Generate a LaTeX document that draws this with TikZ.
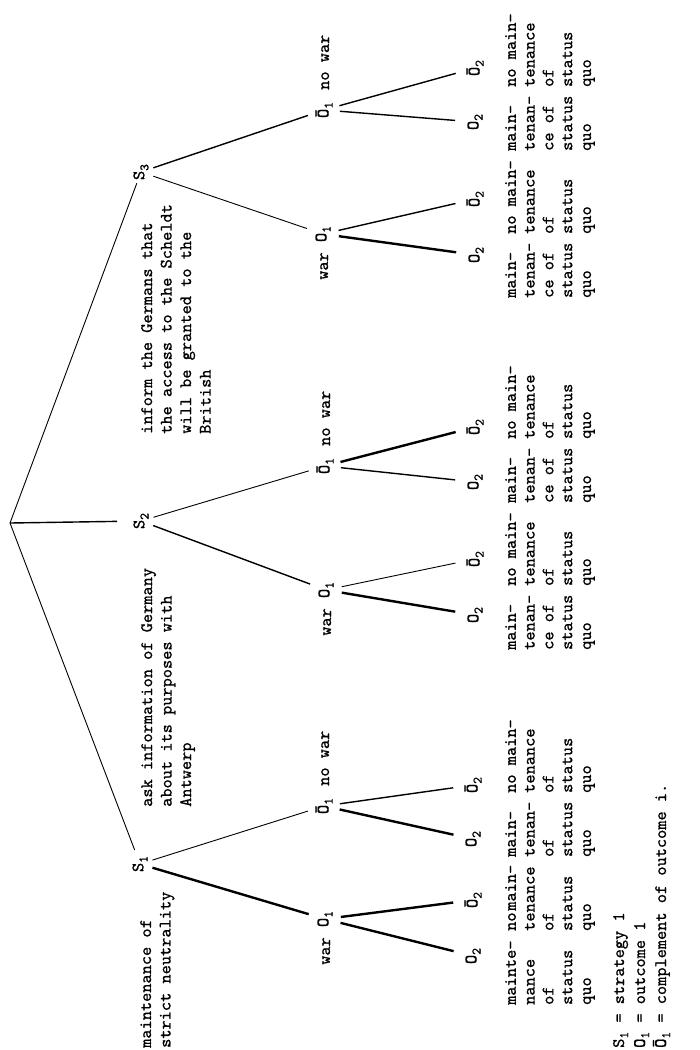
\documentclass[tikz,border=0pt]{standalone}
\usepackage{fontspec}
\newfontfamily\tw{lmmono10-regular.otf}[FakeBold=0.8]
\newcommand{\lsub}[1]{\raisebox{-0.55ex}{\fontsize{13}{13}\selectfont #1}}
\begin{document}
\begin{tikzpicture}[x=1pt,y=-1pt,
  every node/.style={font=\tw\fontsize{17.5}{19.5}\selectfont, rotate=90, inner sep=0pt},
  stxt/.style={align=left, anchor=north west},
  ltxt/.style={align=left, anchor=north west, font=\tw\fontsize{17.5}{18.8}\selectfont},
  thinl/.style={line width=0.9pt},
  midl/.style={line width=1.4pt},
  thickl/.style={line width=2.4pt},
  froms/.style={shorten <=13pt, shorten >=17pt},
  fromo/.style={shorten <=16pt, shorten >=20pt},
]
\useasboundingbox (0,0) rectangle (700,1050);

% root and strategies
\coordinate (R) at (10,523);
\node (S1) at (140,864) {S\lsub{1}};
\node (S2) at (141,521) {S\lsub{2}};
\node (S3) at (141,172) {S\lsub{3}};

% outcome O1 level
\node (A1) at (325,919) {O\lsub{1}};
\node (B1) at (324,806) {\=O\lsub{1}};
\node (A2) at (326,590) {O\lsub{1}};
\node (B2) at (325,466) {\=O\lsub{1}};
\node (A3) at (323,234) {O\lsub{1}};
\node (B3) at (324,110) {\=O\lsub{1}};

\foreach \n in {1,2,3}{
  \node[anchor=base east] (w\n) at ([xshift=5pt,yshift=-18pt]A\n.center) {war};
  \node[anchor=base west] (nw\n) at ([xshift=5pt,yshift=20pt]B\n.center) {no war};
}

% leaves
\node (L11) at (473,956) {O\lsub{2}};
\node (L12) at (473,900) {\=O\lsub{2}};
\node (L13) at (473,839) {O\lsub{2}};
\node (L14) at (473,785) {\=O\lsub{2}};
\node (L21) at (475,615) {O\lsub{2}};
\node (L22) at (475,559) {\=O\lsub{2}};
\node (L23) at (475,482) {O\lsub{2}};
\node (L24) at (475,427) {\=O\lsub{2}};
\node (L31) at (476,255) {O\lsub{2}};
\node (L32) at (475,199) {\=O\lsub{2}};
\node (L33) at (475,122) {O\lsub{2}};
\node (L34) at (475,68) {\=O\lsub{2}};

% connectors
\draw[thinl, shorten >=15pt] (R) -- (S1.center);
\draw[midl, shorten >=24pt] (R) -- (S2.center);
\draw[thinl, shorten >=12pt] (R) -- (S3.center);

\draw[thickl, froms] (S1.center) -- (A1.center);
\draw[thinl, froms] (S1.center) -- (B1.center);
\draw[midl, froms] (S2.center) -- (A2.center);
\draw[thinl, froms] (S2.center) -- (B2.center);
\draw[thinl, froms] (S3.center) -- (A3.center);
\draw[midl, froms] (S3.center) -- (B3.center);

\draw[thickl, fromo] (A1.center) -- (L11.center);
\draw[thickl, fromo] (A1.center) -- (L12.center);
\draw[thickl, fromo] (B1.center) -- (L13.center);
\draw[midl, fromo] (B1.center) -- (L14.center);
\draw[thickl, fromo] (A2.center) -- (L21.center);
\draw[thinl, fromo] (A2.center) -- (L22.center);
\draw[midl, fromo] (B2.center) -- (L23.center);
\draw[thickl, fromo] (B2.center) -- (L24.center);
\draw[thickl, fromo] (A3.center) -- (L31.center);
\draw[midl, fromo] (A3.center) -- (L32.center);
\draw[midl, fromo] (B3.center) -- (L33.center);
\draw[midl, fromo] (B3.center) -- (L34.center);

% strategy descriptions
\node[stxt] (T1) at (140,1048) {maintenance of\\strict neutrality};
\node[stxt] (T2) at (141,807) {ask information of Germany\\about its purposes with\\Antwerp};
\node[stxt] (T3) at (141,434) {inform the Germans that\\the access to the Scheldt\\will be granted to the\\British};

% leaf descriptions
\node[ltxt] (D11) at (505,1005) {mainte-\\nance\\of\\status\\quo};
\node[ltxt] (D12) at (505,931) {no\hspace{0.1em}main-\\tenance\\of\\status\\quo};
\node[ltxt] (D13) at (505,857) {main-\\tenan-\\of\\status\\quo};
\node[ltxt] (D14) at (505,793) {no main-\\tenance\\of\\status\\quo};
\node[ltxt] (D21) at (505,650) {main-\\tenan-\\ce of\\status\\quo};
\node[ltxt] (D22) at (505,586) {no main-\\tenance\\of\\status\\quo};
\node[ltxt] (D23) at (505,503) {main-\\tenan-\\ce of\\status\\quo};
\node[ltxt] (D24) at (505,439) {no main-\\tenance\\of\\status\\quo};
\node[ltxt] (D31) at (505,298) {main-\\tenan-\\ce of\\status\\quo};
\node[ltxt] (D32) at (505,234) {no main-\\tenance\\of\\status\\quo};
\node[ltxt] (D33) at (505,151) {main-\\tenan-\\ce of\\status\\quo};
\node[ltxt] (D34) at (505,87) {no main-\\tenance\\of\\status\\quo};

% legend
\node[anchor=base west] (K1) at (624,1048) {S\lsub{1} = strategy 1};
\node[anchor=base west] (K2) at (645,1048) {O\lsub{1} = outcome 1};
\node[anchor=base west] (K3) at (666,1048) {\=O\lsub{1} = complement of outcome i.};
\end{tikzpicture}
\end{document}
